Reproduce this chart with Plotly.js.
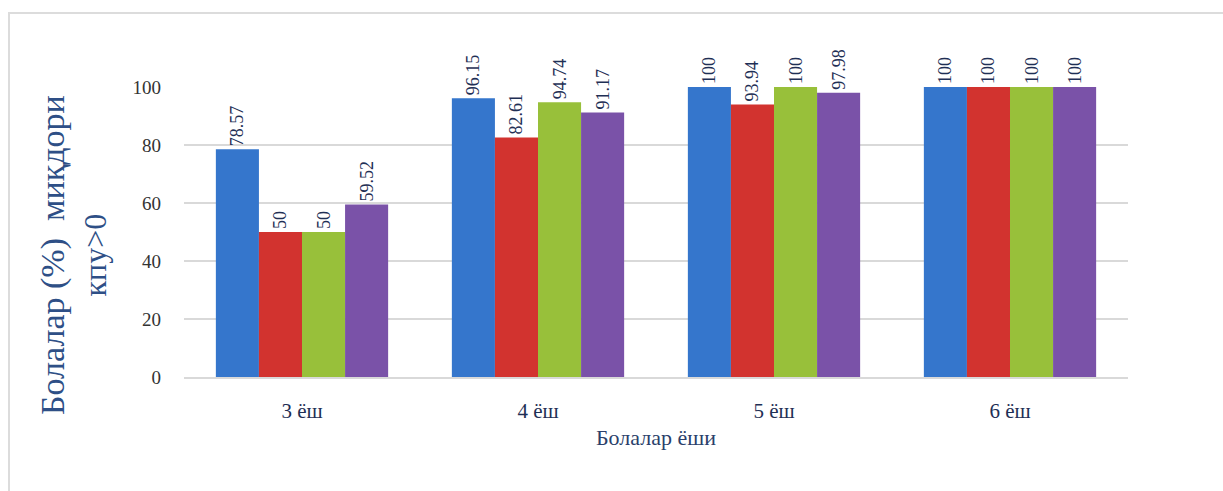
<!DOCTYPE html>
<html>
<head>
<meta charset="utf-8">
<script src="https://cdn.plot.ly/plotly-3.0.1.min.js"></script>
<style>
  html, body { margin: 0; padding: 0; background: #ffffff; }
  #wrap { position: relative; width: 1223px; height: 491px; overflow: hidden; }
  #frame { position: absolute; left: 8px; top: 12px; width: 1230px; height: 500px;
           border-left: 2px solid #dcdcdc; border-top: 2px solid #dcdcdc; box-sizing: border-box; }
  #chart { position: absolute; left: 0; top: 0; width: 1223px; height: 491px; }
</style>
</head>
<body>
<div id="wrap">
  <div id="frame"></div>
  <div id="chart"></div>
</div>
<script>
const categories = ["3 ёш", "4 ёш", "5 ёш", "6 ёш"];
const series1 = [78.57, 96.15, 100, 100];
const series2 = [50, 82.61, 93.94, 100];
const series3 = [50, 94.74, 100, 100];
const series4 = [59.52, 91.17, 97.98, 100];
const seriesValues = [series1, series2, series3, series4];
const seriesColors = ["#3576cc", "#d2332f", "#98c03a", "#7a52a8"];
const yTickValues = [0, 20, 40, 60, 80, 100];
const xAxisTitle = "Болалар ёши";
const yAxisTitleLine1 = "Болалар (%)  миқдори";
const yAxisTitleLine2 = "кпу>0";

const labelColor = "#1f2f55";
const serif = "Liberation Serif";

const traces = seriesValues.map((vals, i) => ({
  type: "bar",
  x: categories,
  y: vals,
  marker: { color: seriesColors[i], line: { width: 0 } },
  text: vals.map(v => String(v)),
  textposition: "outside",
  textangle: -90,
  cliponaxis: false,
  textfont: { family: serif, size: 18, color: labelColor },
  hoverinfo: "x+y",
  showlegend: false
}));

const layout = {
  width: 1223,
  height: 491,
  font: { family: serif },
  paper_bgcolor: "rgba(0,0,0,0)",
  plot_bgcolor: "rgba(0,0,0,0)",
  margin: { l: 184, r: 95, t: 87, b: 114 },
  barmode: "group",
  bargap: 0.27,
  bargroupgap: 0,
  showlegend: false,
  xaxis: {
    type: "category",
    showgrid: false,
    showline: true,
    linecolor: "#d9d9d9",
    linewidth: 1.5,
    ticks: "",
    tickfont: { family: serif, size: 21, color: labelColor },
    ticklabelstandoff: 14,
    title: { text: xAxisTitle, font: { family: serif, size: 22, color: "#2b3f6b" }, standoff: 8 }
  },
  yaxis: {
    range: [0, 100],
    tickvals: yTickValues,
    ticktext: yTickValues.map(String),
    showgrid: true,
    gridcolor: "#d9d9d9",
    gridwidth: 1.5,
    zeroline: false,
    showline: false,
    ticks: "",
    ticklabelstandoff: 22,
    tickfont: { family: serif, size: 19, color: "#333333" }
  },
  annotations: [
    {
      text: yAxisTitleLine1,
      xref: "paper", yref: "paper",
      x: -0.139, y: 0.42,
      xanchor: "center", yanchor: "middle",
      textangle: -90,
      showarrow: false,
      font: { family: serif, size: 34, color: "#2e4f86" }
    },
    {
      text: yAxisTitleLine2,
      xref: "paper", yref: "paper",
      x: -0.094, y: 0.42,
      xanchor: "center", yanchor: "middle",
      textangle: -90,
      showarrow: false,
      font: { family: serif, size: 32, color: "#2e4f86" }
    }
  ]
};

Plotly.newPlot("chart", traces, layout, { displayModeBar: false, staticPlot: true });
</script>
</body>
</html>
